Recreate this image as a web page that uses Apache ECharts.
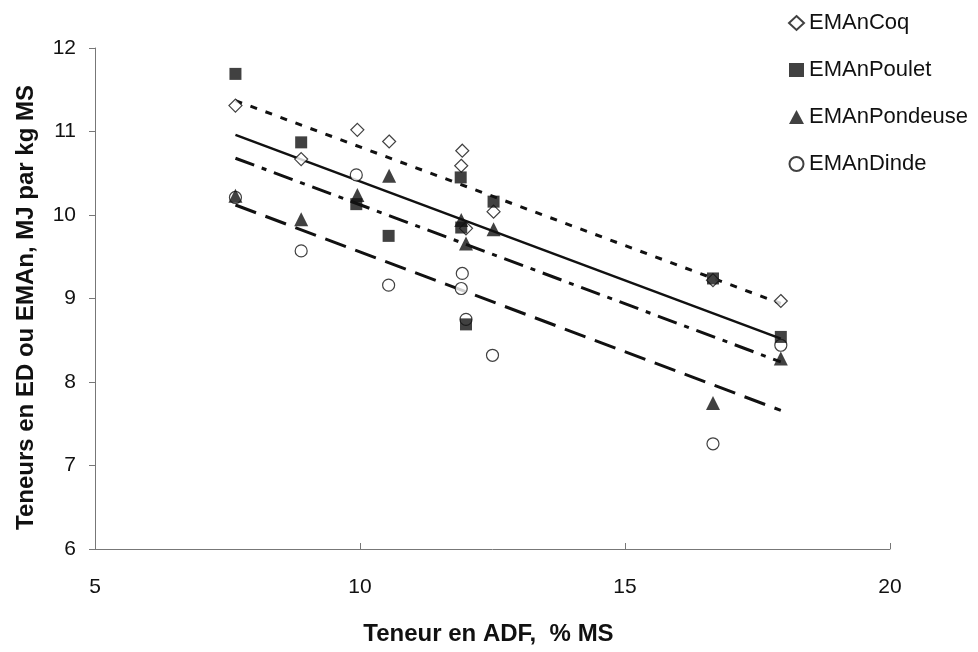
<!DOCTYPE html>
<html>
<head>
<meta charset="utf-8">
<script src="https://cdn.jsdelivr.net/npm/echarts@6/dist/echarts.min.js"></script>
<style>html,body{margin:0;padding:0;background:#fff}#c{width:978px;height:652px}</style>
</head>
<body>
<div id="c"></div>
<script>
// Scatter data: [ADF % MS, MJ/kg MS]
var coqData = [[7.65,11.31],[8.89,10.67],[9.95,11.02],[10.55,10.88],[11.93,10.77],[11.91,10.59],[12.0,9.84],[12.52,10.04],[16.66,9.22],[17.94,8.97]];
var pouletData = [[7.65,11.69],[8.89,10.87],[9.93,10.13],[10.54,9.75],[11.9,10.45],[11.91,9.85],[12.0,8.69],[12.52,10.16],[16.66,9.24],[17.94,8.54]];
var pondeuseData = [[7.65,10.23],[8.89,9.95],[9.95,10.24],[10.55,10.47],[11.91,9.94],[12.0,9.66],[12.52,9.83],[16.66,7.75],[17.94,8.28]];
var dindeData = [[7.65,10.21],[8.89,9.57],[9.93,10.48],[10.54,9.16],[11.93,9.3],[11.91,9.12],[12.0,8.75],[12.5,8.32],[16.66,7.26],[17.94,8.44]];
// Trend line end points
var coqTrend = [[7.65,11.37],[17.94,8.94]];
var pouletTrend = [[7.65,10.96],[17.94,8.52]];
var pondeuseTrend = [[7.65,10.68],[17.94,8.24]];
var dindeTrend = [[7.65,10.12],[17.94,7.66]];
var seriesNames = ['EMAnCoq','EMAnPoulet','EMAnPondeuse','EMAnDinde'];
var xTicks = {min:5, max:20, interval:5};
var yTicks = {min:6, max:12, interval:1};

var ink = '#111';
var font = 'Liberation Sans, Arial, sans-serif';
var chart = echarts.init(document.getElementById('c'));
function trend(data, dash, w){
  return {type:'line', data:data, symbol:'none', silent:true, z:1,
    lineStyle:{color:ink, width:w, type:dash}};
}
chart.setOption({
  animation:false,
  backgroundColor:'#fff',
  textStyle:{fontFamily:font, color:ink},
  legend:{
    data:seriesNames, orient:'vertical', left:783, top:6, itemGap:23,
    itemWidth:15, itemHeight:14,
    textStyle:{fontSize:22, lineHeight:24, color:ink, fontFamily:font}
  },
  grid:{left:95, right:88, top:48, bottom:103},
  xAxis:{
    type:'value', min:xTicks.min, max:xTicks.max, interval:xTicks.interval,
    name:'Teneur en ADF,  % MS', nameLocation:'middle', nameGap:73,
    nameTextStyle:{fontSize:24, fontWeight:'bold', color:ink, padding:[0,8,0,0]},
    axisLine:{lineStyle:{color:'#777', width:1}},
    axisTick:{inside:true, length:6, lineStyle:{color:'#777'}},
    axisLabel:{fontSize:21, color:ink, margin:28},
    splitLine:{show:false}
  },
  yAxis:{
    type:'value', min:yTicks.min, max:yTicks.max, interval:yTicks.interval,
    name:'Teneurs en ED ou EMAn, MJ par kg MS', nameLocation:'middle', nameGap:57,
    nameTextStyle:{fontSize:24, fontWeight:'bold', color:ink, padding:[0,18,0,0]},
    axisLine:{show:true, lineStyle:{color:'#777', width:1}},
    axisTick:{show:true, length:6, lineStyle:{color:'#777'}},
    axisLabel:{fontSize:21, color:ink, margin:19},
    splitLine:{show:false}
  },
  series:[
    trend(coqTrend,[7,9],3),
    trend(pouletTrend,'solid',2.5),
    trend(pondeuseTrend,[20,8,5,8],3),
    trend(dindeTrend,[22,10],3),
    {name:seriesNames[0], type:'scatter', data:coqData, symbol:'diamond', symbolSize:13, z:3,
      itemStyle:{color:'#fff', borderColor:ink, borderWidth:1.2}},
    {name:seriesNames[1], type:'scatter', data:pouletData, symbol:'rect', symbolSize:12, z:3,
      itemStyle:{color:ink}},
    {name:seriesNames[2], type:'scatter', data:pondeuseData, symbol:'triangle', symbolSize:14, z:3,
      itemStyle:{color:ink}},
    {name:seriesNames[3], type:'scatter', data:dindeData, symbol:'circle', symbolSize:12, z:2,
      itemStyle:{color:'#fff', borderColor:ink, borderWidth:1.2}}
  ]
});
</script>
</body>
</html>
